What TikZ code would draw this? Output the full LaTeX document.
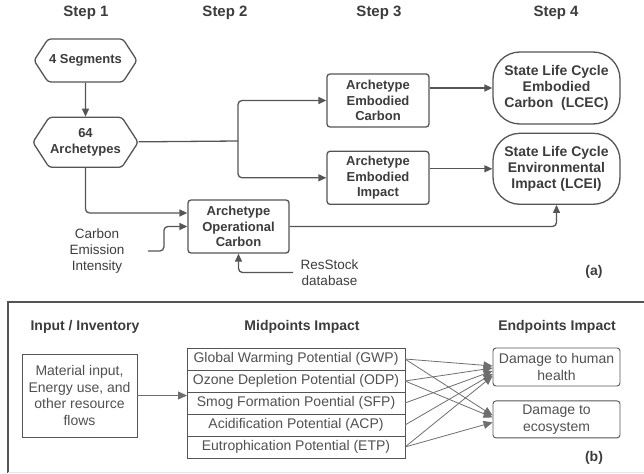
\documentclass[tikz,border=0pt]{standalone}
\usepackage{fontspec}
\setmainfont{Liberation Sans}
\usetikzlibrary{positioning, arrows.meta, shapes.symbols}
\definecolor{ink}{HTML}{3C3C3C}
\definecolor{wire}{HTML}{555555}

\begin{document}
\begin{tikzpicture}[
  x=1pt, y=1pt,
  node distance=14pt and 40pt,
  head/.style={font=\fontsize{15}{18}\selectfont\bfseries, text=ink},
  sub/.style={font=\fontsize{14}{17}\selectfont\bfseries, text=ink},
  hexa/.style={draw=wire, line width=1.3pt, signal, signal to=west and east, signal pointer angle=114, rounded corners=3pt, minimum width=99pt, align=center, inner sep=1pt, font=\fontsize{13}{16}\selectfont\bfseries, text=ink},
  stepbox/.style={draw=wire, line width=1.3pt, rounded corners=3pt, minimum width=102pt, minimum height=53pt, align=center, font=\fontsize{13}{15.5}\selectfont\bfseries, text=ink},
  pill/.style={draw=wire, line width=1.3pt, rounded corners=27pt, minimum width=127pt, minimum height=72pt, align=center, font=\fontsize{14}{16}\selectfont\bfseries, text=ink},
  side/.style={align=center, font=\fontsize{13.5}{16}\selectfont, text=ink},
  flowbox/.style={draw=wire, line width=0.9pt, minimum width=115pt, minimum height=83pt, align=center, font=\fontsize{14}{16.5}\selectfont, text=ink!90},
  cell/.style={draw=wire, line width=0.9pt, minimum width=218pt, minimum height=22pt, outer sep=0pt, inner sep=0pt, font=\fontsize{14}{16}\selectfont, text=ink!90},
  endbox/.style={draw=wire, line width=0.9pt, rounded corners=3pt, minimum width=127pt, minimum height=38pt, align=center, font=\fontsize{14}{16.5}\selectfont, text=ink!90},
  arr/.style={-{Triangle[length=8pt, width=7pt]}, draw=wire, line width=1.3pt, rounded corners=4pt},
  fine/.style={-{Triangle[length=9pt, width=8pt]}, draw=wire!85, line width=0.8pt},
  frame/.style={draw=wire, line width=1.3pt}
]
  \useasboundingbox (0,0) rectangle (644,-473);

  % panel (a)
  \node[head] (s1) at (86,-13) {Step 1};
  \node[head] (s2) at (225,-13) {Step 2};
  \node[head] (s3) at (379,-13) {Step 3};
  \node[head] (s4) at (556,-13) {Step 4};

  \node[hexa, minimum height=43pt] (seg) at (85.5,-60.5) {4 Segments};
  \node[hexa, minimum height=50pt, below=34pt of seg] (arch) {64\\Archetypes};
  \node[stepbox] (ec) at (378,-100.5) {Archetype\\Embodied\\Carbon};
  \node[stepbox, below=23pt of ec] (ei) {Archetype\\Embodied\\Impact};
  \node[stepbox, minimum width=101pt] (oc) at (238.5,-226.5) {Archetype\\Operational\\Carbon};
  \node[pill] (lcec) at (556.5,-88) {State Life Cycle\\Embodied\\Carbon\ \ (LCEC)};
  \node[pill, minimum height=71pt, below=8pt of lcec] (lcei) {State Life Cycle\\Environmental\\Impact (LCEI)};
  \node[side] (cei) at (97,-251) {Carbon\\Emission\\Intensity};
  \node[side] (res) at (329.5,-272.5) {ResStock\\database};
  \node[head, font=\fontsize{14}{17}\selectfont\bfseries] (taga) at (594,-272) {(a)};
  \coordinate (split) at (238,-141);

  \draw[arr] (seg) -- (arch);
  \draw[arr, -] (arch) -- (split);
  \draw[arr] (split) |- (ec);
  \draw[arr] (split) |- (ei);
  \draw[arr] (arch) |- ([yshift=13.5pt]oc.west);
  \draw[arr] ([xshift=20pt]cei.east) -- ++(16,0) |- (oc);
  \draw[arr] ([xshift=-4pt]res.west) -| (oc);
  \draw[arr] (oc) -| (lcei);
  \draw[arr] (ec.east |- lcec) -- (lcec);
  \draw[arr] (ei.east |- lcei) -- (lcei);

  % panel (b)
  \draw[frame] (644,-302) -- (8,-302) -- (8,-473);
  \draw[gray!20, line width=0.8pt] (8,-472) -- (644,-472);

  \node[sub] (inp) at (85,-327) {Input / Inventory};
  \node[sub] (midp) at (302,-327) {Midpoints Impact};
  \node[sub] (endp) at (557,-327) {Endpoints Impact};
  \node[flowbox] (mat) at (79.5,-395.5) {Material input,\\Energy use, and\\other resource\\flows};
  \node[cell, anchor=north west] (gwp) at (187,-348) {Global Warming Potential (GWP)};
  \node[cell, below=0pt of gwp] (odp) {Ozone Depletion Potential (ODP)};
  \node[cell, below=0pt of odp] (sfp) {Smog Formation Poential (SFP)};
  \node[cell, below=0pt of sfp] (acp) {Acidification Potential (ACP)};
  \node[cell, below=0pt of acp] (etp) {Eutrophication Potential (ETP)};
  \node[endbox] (hh) at (556.5,-367) {Damage to human\\health};
  \node[endbox, minimum height=37pt, below=14pt of hh] (eco) {Damage to\\ecosystem};
  \node[head, font=\fontsize{14}{17}\selectfont\bfseries] (tagb) at (594,-458) {(b)};

  \draw[fine] (mat.east) -- (mat.east -| gwp.west);
  \foreach \src/\dy in {gwp/1, odp/-1, sfp/-4, acp/-7, etp/-9}
    \draw[fine] (\src.east) -- ([yshift=\dy pt]hh.west);
  \foreach \src/\dy in {gwp/4, odp/2, etp/-3}
    \draw[fine] (\src.east) -- ([yshift=\dy pt]eco.west);
\end{tikzpicture}
\end{document}
